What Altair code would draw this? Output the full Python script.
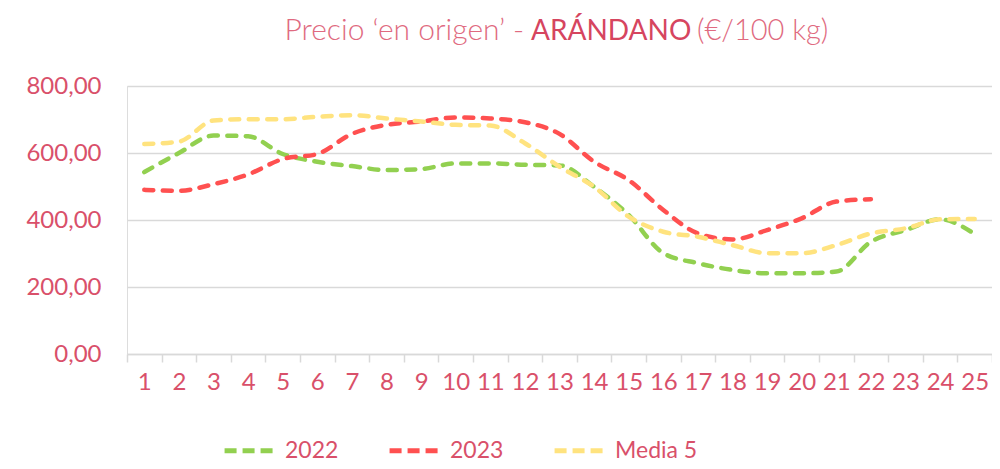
import altair as alt
import pandas as pd

weeks = [str(i) for i in range(1, 26)]
series_names = ["2022", "2023", "Media 5"]
colors = ["#92D050", "#FF5050", "#FFE37F"]

v2022 = [543, 600, 652, 650, 597, 574, 561, 549, 552, 569, 569, 565, 563, 499, 415,
         301, 271, 251, 241, 241, 246, 335, 370, 402, 358]
v2023 = [490, 487, 507, 536, 582, 597, 657, 684, 694, 706, 703, 692, 657, 574, 519,
         430, 360, 342, 370, 405, 455, 462]
vmedia = [627, 634, 697, 701, 701, 708, 713, 703, 694, 684, 682, 629, 559, 499, 410,
          365, 350, 325, 301, 301, 325, 360, 375, 402, 403]

title_left = "Precio ‘en origen’ -"
title_mid = "ARÁNDANO"
title_right = "(€/100 kg)"

rows = []
for name, vals in zip(series_names, [v2022, v2023, vmedia]):
    for i, v in enumerate(vals):
        rows.append({"semana": weeks[i], "serie": name, "valor": v, "orden": series_names.index(name)})
df = pd.DataFrame(rows)

FONT = "Lato"
TXT = "#D9506A"

lines = alt.Chart(df).mark_line(
    interpolate="monotone", strokeWidth=4.5, strokeDash=[9, 9.5], strokeCap="round"
).encode(
    x=alt.X("semana:N", sort=weeks, scale=alt.Scale(paddingInner=0, paddingOuter=0),
            axis=alt.Axis(title=None, labelAngle=0, labelFontSize=24, labelColor=TXT,
                          labelFont=FONT, tickBand="extent", tickColor="#D9D9D9",
                          tickWidth=1.5, tickSize=8, domainColor="#D9D9D9",
                          domainWidth=1.5, labelPadding=8, grid=False)),
    y=alt.Y("valor:Q", scale=alt.Scale(domain=[0, 800]),
            axis=alt.Axis(title=None, values=[0, 200, 400, 600, 800],
                          labelExpr="replace(format(datum.value, '.2f'), '.', ',')",
                          labelFontSize=24, labelColor=TXT, labelFont=FONT,
                          domain=False, ticks=False, labelPadding=26,
                          gridColor="#D9D9D9", gridWidth=1.5)),
    color=alt.Color("serie:N", scale=alt.Scale(domain=series_names, range=colors),
                    legend=alt.Legend(title=None, orient="none", direction="horizontal",
                                      legendX=95, legendY=335, symbolType="stroke",
                                      symbolStrokeWidth=5, symbolDash=[12, 6],
                                      symbolSize=2900, labelFontSize=23,
                                      labelColor=TXT, labelFont=FONT, labelOffset=4,
                                      columnPadding=40)),
    order=alt.Order("orden:Q"),
    detail="serie:N",
)

def text_layer(txt, xpos, align, color, weight, size):
    return alt.Chart(pd.DataFrame({"t": [txt]})).mark_text(
        align=align, baseline="alphabetic", fontSize=size, font=FONT,
        fontWeight=weight, color=color
    ).encode(x=alt.value(xpos), y=alt.value(-46), text="t:N")

t1 = text_layer(title_left, 397, "right", "#E06A80", 300, 30)
t2 = text_layer(title_mid, 404, "left", "#D6455F", 400, 28)
t3 = text_layer(title_right, 570, "left", "#E06A80", 300, 29)

chart = alt.layer(lines, t1, t2, t3).properties(
    width=865, height=268,
    autosize=alt.AutoSizeParams(type="none"),
    padding={"left": 119, "top": 78, "right": 0, "bottom": 107},
).configure_view(stroke=None).configure(background="white")

chart.save("out.html", embed_options={"renderer": "svg", "actions": False})
